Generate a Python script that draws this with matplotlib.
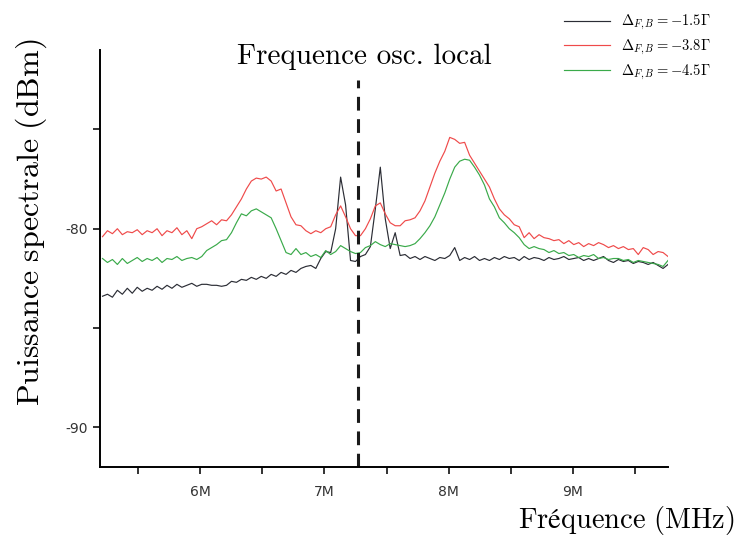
import numpy as np
import matplotlib
matplotlib.use("Agg")
import matplotlib.pyplot as plt
from matplotlib.ticker import FixedLocator, FuncFormatter

plt.rcParams['mathtext.fontset'] = 'cm'

# Frequency grid (MHz)
freq = np.round(5.21 + 0.04 * np.arange(115), 2)

black_db = [
    -83.4, -83.3, -83.45, -83.1, -83.3, -83.0, -83.25, -82.95, -83.15, -83.0,
    -83.1, -82.9, -83.05, -82.85, -83.0, -82.8, -82.95, -82.85, -82.75, -82.9,
    -82.8, -82.8, -82.85, -82.85, -82.9, -82.85, -82.65, -82.7, -82.55, -82.6,
    -82.45, -82.55, -82.4, -82.5, -82.3, -82.4, -82.2, -82.3, -82.1, -82.2,
    -82.0, -81.9, -81.85, -82.0, -81.5, -81.15, -81.2, -80.0, -77.4, -78.8,
    -81.6, -81.65, -81.4, -81.3, -80.9, -79.0, -76.9, -79.5, -81.0, -80.2,
    -81.35, -81.3, -81.5, -81.4, -81.55, -81.4, -81.5, -81.6, -81.45, -81.5,
    -81.35, -80.95, -81.6, -81.45, -81.55, -81.4, -81.6, -81.5, -81.6, -81.45,
    -81.55, -81.4, -81.5, -81.45, -81.6, -81.4, -81.55, -81.45, -81.5, -81.6,
    -81.45, -81.55, -81.5, -81.4, -81.55, -81.5, -81.45, -81.6, -81.5, -81.6,
    -81.5, -81.4, -81.6, -81.7, -81.55, -81.65, -81.6, -81.75, -81.65, -81.7,
    -81.8, -81.7, -81.85, -82.0, -81.8,
]

red_db = [
    -80.4, -80.1, -80.25, -80.0, -80.3, -80.15, -80.2, -80.05, -80.3, -80.1,
    -80.2, -80.0, -80.35, -80.1, -80.2, -79.95, -80.3, -80.1, -80.5, -80.0,
    -79.9, -79.75, -79.6, -79.8, -79.55, -79.6, -79.3, -78.9, -78.5, -78.0,
    -77.6, -77.45, -77.5, -77.4, -77.6, -78.1, -78.0, -78.7, -79.4, -79.8,
    -79.85, -80.1, -80.25, -80.1, -80.2, -80.0, -79.9, -79.3, -78.85, -79.4,
    -80.0, -80.35, -80.35, -80.0, -79.5, -78.85, -78.7, -79.25, -79.7, -79.85,
    -79.85, -79.6, -79.55, -79.45, -79.1, -78.6, -77.9, -77.2, -76.6, -76.1,
    -75.4, -75.5, -75.7, -75.65, -76.3, -76.7, -77.1, -77.5, -77.9, -78.5,
    -79.0, -79.3, -79.5, -79.8, -79.9, -80.45, -80.2, -80.5, -80.3, -80.45,
    -80.5, -80.6, -80.55, -80.75, -80.6, -80.8, -80.7, -80.9, -80.75, -80.85,
    -80.7, -80.8, -80.95, -80.85, -81.0, -80.9, -81.05, -81.0, -81.3, -80.95,
    -81.05, -81.3, -81.15, -81.2, -81.4,
]

green_db = [
    -81.5, -81.7, -81.55, -81.8, -81.5, -81.75, -81.6, -81.45, -81.65, -81.5,
    -81.6, -81.45, -81.7, -81.5, -81.55, -81.4, -81.6, -81.5, -81.45, -81.55,
    -81.4, -81.1, -80.95, -80.8, -80.6, -80.55, -80.2, -79.7, -79.25, -79.35,
    -79.1, -79.0, -79.15, -79.3, -79.45, -80.0, -80.6, -81.2, -81.3, -81.0,
    -81.3, -81.2, -81.4, -81.3, -81.45, -81.1, -81.3, -81.15, -80.85, -81.0,
    -81.15, -81.25, -81.2, -80.95, -80.85, -80.65, -80.8, -80.9, -80.75, -80.8,
    -80.85, -80.9, -80.85, -80.75, -80.5, -80.2, -79.85, -79.4, -78.8, -78.2,
    -77.5, -76.9, -76.6, -76.5, -76.55, -76.9, -77.3, -77.8, -78.5, -78.9,
    -79.45, -79.7, -80.0, -80.2, -80.45, -80.8, -81.0, -80.9, -81.0, -81.05,
    -81.2, -81.1, -81.25, -81.2, -81.35, -81.3, -81.45, -81.35, -81.4, -81.3,
    -81.5, -81.45, -81.55, -81.5, -81.5, -81.6, -81.55, -81.7, -81.6, -81.65,
    -81.7, -81.75, -81.8, -81.9, -81.6,
]

labels = [r'$\Delta_{F,B} = -1.5\Gamma$', r'$\Delta_{F,B} = -3.8\Gamma$',
          r'$\Delta_{F,B} = -4.5\Gamma$']
colors = ['#2b2d35', '#ef4a4a', '#3aaa4a']

lo_freq = 7.27
x_major = [6, 7, 8, 9]
x_minor = [5.5, 6.5, 7.5, 8.5, 9.5]
y_major = [-90, -80]
y_minor = [-85, -75]

fig = plt.figure(figsize=(7.42, 5.39), dpi=100)
ax = fig.add_axes([0.1348, 0.1336, 0.9003 - 0.1348, 0.9072 - 0.1336])

lines = []
for data, lab, c in zip([black_db, red_db, green_db], labels, colors):
    ln, = ax.plot(freq, data, color=c, lw=0.85, label=lab)
    lines.append(ln)

ax.vlines(lo_freq, -92, -72.5, colors='#1a1a1a', linestyles=(0, (4.5, 2.8)), lw=2.2)
ax.text(lo_freq + 0.05, -71.35, 'Frequence osc. local', ha='center', va='center',
        fontsize=21, fontfamily='cmr10')

ax.set_xlim(5.19, 9.77)
ax.set_ylim(-92, -71)

for s in ['top', 'right']:
    ax.spines[s].set_visible(False)
for s in ['left', 'bottom']:
    ax.spines[s].set_linewidth(1.4)

ax.xaxis.set_major_locator(FixedLocator(x_major))
ax.xaxis.set_minor_locator(FixedLocator(x_minor))
ax.yaxis.set_major_locator(FixedLocator(y_major))
ax.yaxis.set_minor_locator(FixedLocator(y_minor))
ax.xaxis.set_major_formatter(FuncFormatter(lambda v, p: f'{int(v)}M'))
ax.yaxis.set_major_formatter(FuncFormatter(lambda v, p: f'{int(v)}'))
ax.tick_params(which='both', direction='out', length=5, width=1.3, color='#222222')
ax.tick_params(axis='x', which='major', pad=8)
ax.tick_params(axis='y', which='major', pad=4)
for t in ax.get_xticklabels() + ax.get_yticklabels():
    t.set_fontfamily('Liberation Sans Narrow')
    t.set_fontsize(10)
    t.set_color('#333333')

fig.text(0.042, 0.588, r'$\mathrm{Puissance\ spectrale\ (dBm)}$', rotation=90,
         ha='center', va='center', fontsize=23)
fig.text(0.99, 0.035, r'$\mathrm{Fréquence\ (MHz)}$', ha='right',
         va='center', fontsize=20.5)

fig.legend(handles=lines, loc='upper right', bbox_to_anchor=(0.971, 0.994),
           frameon=False, fontsize=10.5, handlelength=3.2, labelspacing=0.39,
           handletextpad=0.7, borderpad=0.2)

fig.savefig('out.png', dpi=100)
